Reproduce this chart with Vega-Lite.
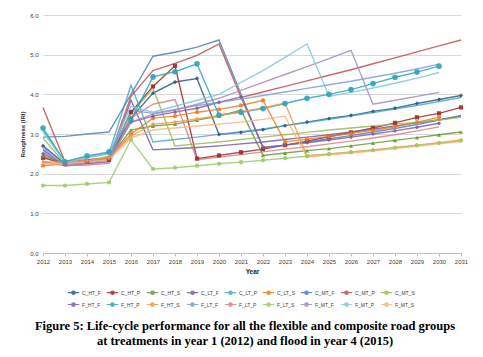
{
  "$schema": "https://vega.github.io/schema/vega-lite/v6.json",
  "width": 418,
  "height": 238,
  "autosize": {"type": "none"},
  "padding": {"left": 43, "top": 15, "right": 22, "bottom": 104},
  "background": "white",
  "title": {
    "text": ["Figure 5: Life-cycle performance for all the flexible and composite road groups", "at treatments in year 1 (2012) and flood in year 4 (2015)"],
    "orient": "bottom",
    "anchor": "middle",
    "frame": "group",
    "offset": 11,
    "dx": -7,
    "font": "Liberation Serif",
    "fontSize": 12.5,
    "fontWeight": "bold",
    "color": "#000000",
    "lineHeight": 15
  },
  "data": {
    "values": [
      {"year": 2012, "C_HT_F": 2.7, "C_HT_P": 2.4, "C_HT_S": 2.45, "C_LT_F": 2.6, "C_LT_P": 3.1, "C_LT_S": 2.2, "C_MT_F": 2.92, "C_MT_P": 3.67, "C_MT_S": 2.9, "F_HT_F": 2.5, "F_HT_P": 3.15, "F_HT_S": 2.3, "F_LT_F": 2.65, "F_LT_P": 2.3, "F_LT_S": 1.7, "F_MT_F": 2.55, "F_MT_P": 3.05, "F_MT_S": 2.25},
      {"year": 2013, "C_HT_F": 2.25, "C_HT_P": 2.25, "C_HT_S": 2.25, "C_LT_F": 2.2, "C_LT_P": 2.3, "C_LT_S": 2.25, "C_MT_F": 2.94, "C_MT_P": 2.3, "C_MT_S": 2.25, "F_HT_F": 2.25, "F_HT_P": 2.3, "F_HT_S": 2.28, "F_LT_F": 2.2, "F_LT_P": 2.2, "F_LT_S": 1.7, "F_MT_F": 2.25, "F_MT_P": 2.28, "F_MT_S": 2.25},
      {"year": 2014, "C_HT_F": 2.3, "C_HT_P": 2.3, "C_HT_S": 2.32, "C_LT_F": 2.25, "C_LT_P": 2.42, "C_LT_S": 2.3, "C_MT_F": 3.0, "C_MT_P": 2.35, "C_MT_S": 2.3, "F_HT_F": 2.3, "F_HT_P": 2.45, "F_HT_S": 2.33, "F_LT_F": 2.28, "F_LT_P": 2.22, "F_LT_S": 1.74, "F_MT_F": 2.3, "F_MT_P": 2.4, "F_MT_S": 2.3},
      {"year": 2015, "C_HT_F": 2.38, "C_HT_P": 2.35, "C_HT_S": 2.4, "C_LT_F": 2.3, "C_LT_P": 2.52, "C_LT_S": 2.4, "C_MT_F": 3.05, "C_MT_P": 2.4, "C_MT_S": 2.45, "F_HT_F": 2.38, "F_HT_P": 2.55, "F_HT_S": 2.4, "F_LT_F": 2.35, "F_LT_P": 2.26, "F_LT_S": 1.78, "F_MT_F": 2.35, "F_MT_P": 2.5, "F_MT_S": 2.35},
      {"year": 2016, "C_HT_F": 3.4, "C_HT_P": 3.55, "C_HT_S": 3.1, "C_LT_F": 3.85, "C_LT_P": 4.23, "C_LT_S": 3.0, "C_MT_F": 4.0, "C_MT_P": 3.95, "C_MT_S": 3.5, "F_HT_F": 3.3, "F_HT_P": 3.35, "F_HT_S": 2.95, "F_LT_F": 3.6, "F_LT_P": 3.4, "F_LT_S": 2.85, "F_MT_F": 3.3, "F_MT_P": 3.7, "F_MT_S": 2.9},
      {"year": 2017, "C_HT_F": 4.03, "C_HT_P": 4.2, "C_HT_S": 3.2, "C_LT_F": 2.6, "C_LT_P": 2.8, "C_LT_S": 3.4, "C_MT_F": 4.96, "C_MT_P": 4.6, "C_MT_S": 4.15, "F_HT_F": 3.45, "F_HT_P": 4.44, "F_HT_S": 3.25, "F_LT_F": 3.52, "F_LT_P": 3.75, "F_LT_S": 2.12, "F_MT_F": 3.5, "F_MT_P": 3.55, "F_MT_S": 3.1},
      {"year": 2018, "C_HT_F": 4.31, "C_HT_P": 4.72, "C_HT_S": 3.25, "C_LT_F": 2.63, "C_LT_P": 2.86, "C_LT_S": 3.45, "C_MT_F": 5.06, "C_MT_P": 4.78, "C_MT_S": 2.7, "F_HT_F": 3.55, "F_HT_P": 4.57, "F_HT_S": 3.3, "F_LT_F": 3.62, "F_LT_P": 3.87, "F_LT_S": 2.15, "F_MT_F": 3.6, "F_MT_P": 3.7, "F_MT_S": 3.15},
      {"year": 2019, "C_HT_F": 4.4, "C_HT_P": 2.38, "C_HT_S": 3.35, "C_LT_F": 2.66, "C_LT_P": 2.92, "C_LT_S": 3.55, "C_MT_F": 5.19, "C_MT_P": 4.98, "C_MT_S": 2.75, "F_HT_F": 3.65, "F_HT_P": 4.77, "F_HT_S": 3.38, "F_LT_F": 3.72, "F_LT_P": 2.35, "F_LT_S": 2.2, "F_MT_F": 3.75, "F_MT_P": 3.85, "F_MT_S": 3.2},
      {"year": 2020, "C_HT_F": 2.99, "C_HT_P": 2.46, "C_HT_S": 3.45, "C_LT_F": 2.7, "C_LT_P": 2.99, "C_LT_S": 3.62, "C_MT_F": 5.37, "C_MT_P": 5.27, "C_MT_S": 2.8, "F_HT_F": 3.8, "F_HT_P": 3.48, "F_HT_S": 3.47, "F_LT_F": 3.8, "F_LT_P": 2.42, "F_LT_S": 2.25, "F_MT_F": 3.9, "F_MT_P": 4.0, "F_MT_S": 3.25},
      {"year": 2021, "C_HT_F": 3.04, "C_HT_P": 2.54, "C_HT_S": 3.6, "C_LT_F": 2.75, "C_LT_P": 3.06, "C_LT_S": 3.72, "C_MT_F": 4.0, "C_MT_P": 3.92, "C_MT_S": 2.86, "F_HT_F": 3.93, "F_HT_P": 3.55, "F_HT_S": 3.56, "F_LT_F": 3.88, "F_LT_P": 2.48, "F_LT_S": 2.29, "F_MT_F": 4.1, "F_MT_P": 4.3, "F_MT_S": 3.3},
      {"year": 2022, "C_HT_F": 3.11, "C_HT_P": 2.62, "C_HT_S": 2.46, "C_LT_F": 2.8, "C_LT_P": 3.13, "C_LT_S": 3.85, "C_MT_F": 2.65, "C_MT_P": 4.06, "C_MT_S": 2.92, "F_HT_F": 2.67, "F_HT_P": 3.64, "F_HT_S": 3.66, "F_LT_F": 3.97, "F_LT_P": 2.55, "F_LT_S": 2.34, "F_MT_F": 4.3, "F_MT_P": 4.6, "F_MT_S": 3.37},
      {"year": 2023, "C_HT_F": 3.21, "C_HT_P": 2.72, "C_HT_S": 2.52, "C_LT_F": 2.86, "C_LT_P": 3.21, "C_LT_S": 2.8, "C_MT_F": 2.72, "C_MT_P": 4.2, "C_MT_S": 2.98, "F_HT_F": 2.72, "F_HT_P": 3.77, "F_HT_S": 3.78, "F_LT_F": 4.06, "F_LT_P": 2.62, "F_LT_S": 2.39, "F_MT_F": 4.5, "F_MT_P": 4.93, "F_MT_S": 3.45},
      {"year": 2024, "C_HT_F": 3.3, "C_HT_P": 2.82, "C_HT_S": 2.58, "C_LT_F": 2.92, "C_LT_P": 3.29, "C_LT_S": 2.87, "C_MT_F": 2.8, "C_MT_P": 4.34, "C_MT_S": 3.04, "F_HT_F": 2.78, "F_HT_P": 3.9, "F_HT_S": 2.45, "F_LT_F": 4.15, "F_LT_P": 2.68, "F_LT_S": 2.44, "F_MT_F": 4.7, "F_MT_P": 5.27, "F_MT_S": 2.42},
      {"year": 2025, "C_HT_F": 3.39, "C_HT_P": 2.93, "C_HT_S": 2.63, "C_LT_F": 2.98, "C_LT_P": 3.37, "C_LT_S": 2.94, "C_MT_F": 2.88, "C_MT_P": 4.48, "C_MT_S": 3.1, "F_HT_F": 2.85, "F_HT_P": 4.0, "F_HT_S": 2.5, "F_LT_F": 4.24, "F_LT_P": 2.75, "F_LT_S": 2.49, "F_MT_F": 4.9, "F_MT_P": 3.95, "F_MT_S": 2.47},
      {"year": 2026, "C_HT_F": 3.47, "C_HT_P": 3.04, "C_HT_S": 2.7, "C_LT_F": 3.05, "C_LT_P": 3.45, "C_LT_S": 3.01, "C_MT_F": 2.96, "C_MT_P": 4.62, "C_MT_S": 3.15, "F_HT_F": 2.92, "F_HT_P": 4.12, "F_HT_S": 2.55, "F_LT_F": 4.33, "F_LT_P": 2.82, "F_LT_S": 2.54, "F_MT_F": 5.11, "F_MT_P": 4.05, "F_MT_S": 2.52},
      {"year": 2027, "C_HT_F": 3.57, "C_HT_P": 3.15, "C_HT_S": 2.77, "C_LT_F": 3.12, "C_LT_P": 3.54, "C_LT_S": 3.09, "C_MT_F": 3.05, "C_MT_P": 4.77, "C_MT_S": 3.2, "F_HT_F": 3.0, "F_HT_P": 4.27, "F_HT_S": 2.6, "F_LT_F": 4.43, "F_LT_P": 2.9, "F_LT_S": 2.59, "F_MT_F": 3.75, "F_MT_P": 4.16, "F_MT_S": 2.57},
      {"year": 2028, "C_HT_F": 3.65, "C_HT_P": 3.28, "C_HT_S": 2.84, "C_LT_F": 3.2, "C_LT_P": 3.63, "C_LT_S": 3.18, "C_MT_F": 3.14, "C_MT_P": 4.92, "C_MT_S": 3.25, "F_HT_F": 3.08, "F_HT_P": 4.43, "F_HT_S": 2.66, "F_LT_F": 4.53, "F_LT_P": 2.98, "F_LT_S": 2.65, "F_MT_F": 3.85, "F_MT_P": 4.28, "F_MT_S": 2.63},
      {"year": 2029, "C_HT_F": 3.77, "C_HT_P": 3.42, "C_HT_S": 2.91, "C_LT_F": 3.28, "C_LT_P": 3.72, "C_LT_S": 3.3, "C_MT_F": 3.24, "C_MT_P": 5.07, "C_MT_S": 3.3, "F_HT_F": 3.17, "F_HT_P": 4.56, "F_HT_S": 2.72, "F_LT_F": 4.64, "F_LT_P": 3.08, "F_LT_S": 2.71, "F_MT_F": 3.95, "F_MT_P": 4.41, "F_MT_S": 2.69},
      {"year": 2030, "C_HT_F": 3.87, "C_HT_P": 3.52, "C_HT_S": 2.98, "C_LT_F": 3.36, "C_LT_P": 3.82, "C_LT_S": 3.42, "C_MT_F": 3.35, "C_MT_P": 5.22, "C_MT_S": 3.35, "F_HT_F": 3.27, "F_HT_P": 4.71, "F_HT_S": 2.78, "F_LT_F": 4.76, "F_LT_P": 3.18, "F_LT_S": 2.77, "F_MT_F": 4.05, "F_MT_P": 4.55, "F_MT_S": 2.75},
      {"year": 2031, "C_HT_F": 3.97, "C_HT_P": 3.67, "C_HT_S": 3.05, "C_LT_F": 3.45, "C_LT_P": 3.92, "C_LT_S": null, "C_MT_F": 3.47, "C_MT_P": 5.37, "C_MT_S": 3.42, "F_HT_F": null, "F_HT_P": null, "F_HT_S": 2.85, "F_LT_F": null, "F_LT_P": null, "F_LT_S": 2.83, "F_MT_F": null, "F_MT_P": null, "F_MT_S": 2.81}
    ]
  },
  "transform": [
    {"fold": ["C_HT_F", "C_HT_P", "C_HT_S", "C_LT_F", "C_LT_P", "C_LT_S", "C_MT_F", "C_MT_P", "C_MT_S", "F_HT_F", "F_HT_P", "F_HT_S", "F_LT_F", "F_LT_P", "F_LT_S", "F_MT_F", "F_MT_P", "F_MT_S"], "as": ["series", "value"]},
    {"filter": "datum.value != null"}
  ],
  "encoding": {
    "x": {
      "field": "year", "type": "quantitative",
      "scale": {"domain": [2012, 2031], "nice": false, "zero": false},
      "axis": {
        "title": "Year", "values": [2012, 2013, 2014, 2015, 2016, 2017, 2018, 2019, 2020, 2021, 2022, 2023, 2024, 2025, 2026, 2027, 2028, 2029, 2030, 2031],
        "format": "d", "grid": false, "labelFontSize": 6, "labelColor": "#404040", "labelOverlap": false, "labelFlush": false, "labelPadding": 2,
        "tickSize": 3, "tickColor": "#bfbfbf", "domainColor": "#bfbfbf",
        "titleFontSize": 6.5, "titleFontWeight": "bold", "titleColor": "#262626", "titlePadding": 4
      }
    },
    "y": {
      "field": "value", "type": "quantitative",
      "scale": {"domain": [0, 6], "nice": false},
      "axis": {
        "title": "Roughness (IRI)", "values": [0, 1, 2, 3, 4, 5, 6], "format": ".1f",
        "domain": false, "ticks": false, "gridColor": "#d9d9d9", "labelFontSize": 6, "labelColor": "#404040", "labelPadding": 5,
        "titleFontSize": 6, "titleFontWeight": "bold", "titleColor": "#262626", "titlePadding": 4
      }
    },
    "color": {
      "field": "series", "type": "nominal",
      "scale": {
        "domain": ["C_HT_F", "C_HT_P", "C_HT_S", "C_LT_F", "C_LT_P", "C_LT_S", "C_MT_F", "C_MT_P", "C_MT_S", "F_HT_F", "F_HT_P", "F_HT_S", "F_LT_F", "F_LT_P", "F_LT_S", "F_MT_F", "F_MT_P", "F_MT_S"],
        "range": ["#2E5A87", "#9B2D2A", "#6A9A2F", "#7A5BA0", "#4BACC6", "#F07F20", "#4F81BD", "#C0504D", "#9BBB59", "#7D5FA6", "#31A2BC", "#F79646", "#7F9FD3", "#D9817F", "#9BCB6B", "#A08BC2", "#7CC8DC", "#F9B47B"]
      },
      "legend": {
        "title": null, "orient": "none", "legendX": 24, "legendY": 271, "direction": "horizontal", "columns": 9,
        "symbolType": "M-1,0H1M-0.3,0A0.3,0.3,0,1,1,0.3,0A0.3,0.3,0,1,1,-0.3,0Z",
        "symbolSize": 130, "symbolStrokeWidth": 1.2, "labelFontSize": 5, "labelColor": "#404040", "labelOffset": 2,
        "columnPadding": 3, "rowPadding": 1, "labelLimit": 40
      }
    }
  },
  "layer": [
    {"mark": {"type": "line", "strokeWidth": 1.4, "opacity": 0.85}},
    {
      "transform": [{"filter": {"field": "series", "oneOf": ["C_HT_F", "C_HT_P", "C_HT_S", "C_LT_S", "F_HT_F", "F_HT_S", "F_LT_S"]}}],
      "mark": {"type": "point", "filled": true, "size": 18, "opacity": 0.9},
      "encoding": {
        "shape": {
          "field": "series", "type": "nominal", "legend": null,
          "scale": {"domain": ["C_HT_F", "C_HT_P", "C_HT_S", "C_LT_S", "F_HT_F", "F_HT_S", "F_LT_S"], "range": ["diamond", "square", "triangle-up", "circle", "diamond", "diamond", "circle"]}
        }
      }
    },
    {
      "transform": [{"filter": {"field": "series", "equal": "F_HT_P"}}],
      "mark": {"type": "point", "filled": true, "size": 32, "shape": "circle", "opacity": 0.9}
    }
  ],
  "config": {
    "font": "Liberation Sans",
    "view": {"stroke": null}
  }
}
